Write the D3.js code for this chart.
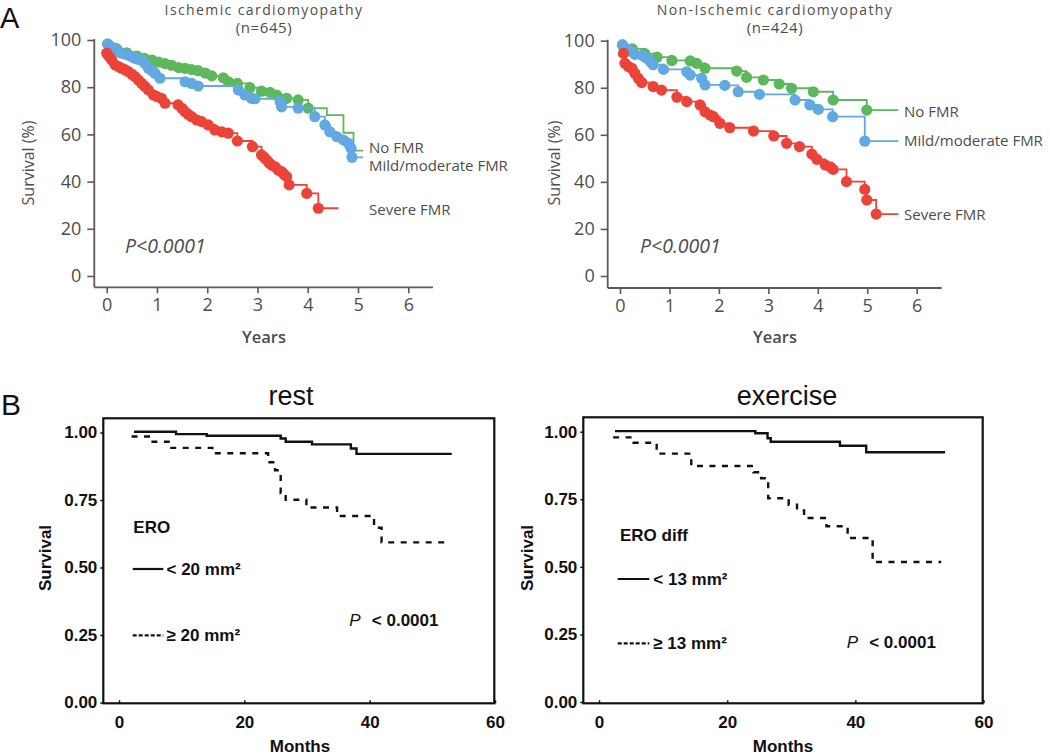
<!DOCTYPE html>
<html><head><meta charset="utf-8">
<script src="https://cdn.jsdelivr.net/npm/d3@7"></script>
<style>body{margin:0;background:#fff}svg{display:block}</style>
</head><body><svg id="c" width="1050" height="755"></svg>
<script>
// ---------- Panel A data ----------
const yearTicks=[0,1,2,3,4,5,6];
const pctTicks=[0,20,40,60,80,100];
const fmrGroups=["No FMR","Mild/moderate FMR","Severe FMR"];

// Ischemic cardiomyopathy (n=645)
const ischNoT=[0.02,0.2,0.4,0.6,0.75,0.9,1.03,1.16,1.29,1.43,1.56,1.69,1.82,1.96,2.09,2.32,2.42,2.6,2.85,3.08,3.25,3.38,3.58,3.81,4.01];
const ischNoS=[98.3,96.2,94.6,93.2,92.2,91.5,90.6,90.0,89.3,88.3,88.0,87.5,87.0,86.0,84.8,84.0,82.3,81.6,79.8,78.3,77.8,76.7,75.3,74.6,71.1];
const ischNoStepT=[4.38,4.71,4.91];
const ischNoStepS=[68.2,60.7,53.1];
const ischNoEnd=5.1;
const ischMildT=[0.02,0.1,0.17,0.24,0.3,0.37,0.43,0.5,0.56,0.63,0.7,0.76,0.83,0.9,0.96,1.06,1.56,1.69,1.82,2.62,2.75,2.88,2.95,3.45,3.48,3.81,4.14,4.34,4.44,4.58,4.71,4.81,4.86,4.88];
const ischMildS=[98.3,97.0,95.8,95.0,94.4,94.0,93.6,92.9,92.2,91.8,91.5,90.0,88.0,87.0,85.9,83.8,82.3,81.6,80.5,78.8,76.7,75.3,75.1,73.9,71.7,71.1,67.5,64.0,61.1,59.0,57.6,56.2,54.1,50.3];
const ischMildEnd=5.1;
const ischSevT=[0,0.05,0.1,0.17,0.24,0.3,0.37,0.43,0.5,0.56,0.63,0.7,0.76,0.83,0.93,1.0,1.09,1.16,1.42,1.5,1.56,1.62,1.69,1.79,1.89,2.02,2.15,2.29,2.42,2.6,2.9,3.08,3.13,3.18,3.23,3.28,3.35,3.41,3.48,3.53,3.58,3.63,3.98,4.21];
const ischSevS=[94.4,93.0,91.5,89.4,88.6,88.0,87.3,86.6,85.5,84.5,83.0,81.6,80.3,78.8,76.7,76.0,75.3,73.2,72.5,71.0,69.6,68.5,67.5,66.1,65.4,64.0,61.9,61.1,60.5,57.2,54.8,51.3,50.3,49.2,48.0,47.0,46.3,44.9,44.2,43.0,42.1,38.6,35.0,28.7];
const ischSevEnd=4.61;

// Non-Ischemic cardiomyopathy (n=424)
const nonNoT=[0.05,0.25,0.5,0.75,1.05,1.42,1.55,1.72,2.36,2.56,2.9,3.22,3.47,3.91,4.31,4.99];
const nonNoS=[98.2,96.5,94.5,93.0,91.6,91.4,90.4,88.3,87.1,84.4,83.3,81.6,79.8,78.3,74.8,70.5];
const nonMildT=[0.05,0.22,0.3,0.45,0.51,0.57,0.62,0.67,0.88,1.35,1.42,1.65,1.72,2.12,2.39,2.82,3.54,3.84,4.01,4.3,4.95];
const nonMildS=[98.2,95.5,94.2,93.8,93.0,92.2,91.0,89.8,87.8,86.8,85.4,84.0,81.2,81.0,78.3,77.2,74.8,72.7,70.8,67.7,57.3];
const nonSevT=[0.07,0.1,0.17,0.24,0.3,0.37,0.44,0.67,0.84,1.15,1.35,1.62,1.72,1.82,1.89,2.02,2.22,2.7,3.11,3.37,3.63,3.88,3.98,4.15,4.25,4.31,4.58,4.95,4.99,5.18];
const nonSevS=[94.6,90.4,89.0,88.3,86.2,84.0,82.2,80.5,79.0,76.0,74.1,72.7,69.8,68.4,67.7,64.9,63.0,61.6,59.5,56.4,55.0,51.8,49.6,47.2,46.4,45.3,40.1,36.8,32.3,26.3];
const nonEnd=5.63;

// ---------- Panel B data ----------
const monthTicks=[0,20,40,60];
const survTicks=[0,0.25,0.5,0.75,1];
const restLowT=[2.4,9.1,14.0,25.8,26.6,30.8,37.0,37.9];
const restLowS=[1.003,0.994,0.988,0.978,0.966,0.956,0.941,0.921];
const restLowEnd=53.1;
const restHighT=[2.0,5.0,7.9,14.9,23.8,24.9,25.8,26.6,29.9,34.8,40.7,41.9];
const restHighS=[0.985,0.966,0.943,0.923,0.89,0.86,0.775,0.751,0.722,0.691,0.647,0.593];
const restHighEnd=52.8;
const exLowT=[2.5,24.4,26.3,26.8,37.6,41.7];
const exLowS=[1.002,0.994,0.976,0.963,0.948,0.924];
const exLowEnd=54.0;
const exHighT=[2.2,5.4,9.0,14.4,24.1,25.3,26.4,29.6,30.9,32.0,35.5,38.8,42.7];
const exHighS=[0.979,0.959,0.919,0.873,0.85,0.828,0.754,0.73,0.709,0.681,0.65,0.607,0.518];
const exHighEnd=53.4;

// ---------- drawing ----------
const svg=d3.select("#c");
const FA="'Open Sans','Noto Sans',sans-serif";
const FB="'Liberation Sans',Arial,sans-serif";
const colors=["#5cb85b","#62a8e3","#ec4339"];
const txtA="#4d4d4d";
const axA="#5a5a5a";

function km(T,S,end){const p=T.map((t,i)=>[t,S[i]]);if(end!=null)p.push([end,S[S.length-1]]);return p;}

function panelA(cfg){
  const x=d3.scaleLinear().domain([0,6]).range(cfg.xr);
  const y=d3.scaleLinear().domain([0,100]).range(cfg.yr);
  const g=svg.append("g");
  const gy=g.append("g").attr("transform",`translate(${cfg.ax},0)`)
    .call(d3.axisLeft(y).tickValues(pctTicks).tickSize(7).tickPadding(6));
  const gx=g.append("g").attr("transform",`translate(0,${cfg.ay})`)
    .call(d3.axisBottom(x).tickValues(yearTicks).tickFormat(d3.format("d")).tickSize(6).tickPadding(5));
  [gy,gx].forEach(a=>{a.select(".domain").remove();
    a.selectAll("line").attr("stroke",axA).attr("stroke-width",1.6);
    a.selectAll("text").attr("font-family",FA).attr("font-size",18).attr("fill",txtA);});
  g.append("line").attr("x1",cfg.ax).attr("x2",cfg.ax).attr("y1",y(100)-1).attr("y2",cfg.ay)
    .attr("stroke",axA).attr("stroke-width",1.8);
  g.append("line").attr("x1",cfg.ax).attr("x2",cfg.xEnd).attr("y1",cfg.ay).attr("y2",cfg.ay)
    .attr("stroke",axA).attr("stroke-width",1.8);
  g.append("text").attr("x",cfg.tc).attr("y",15).attr("text-anchor","middle")
    .attr("font-family",FA).attr("font-size",14).attr("letter-spacing",1.4).attr("fill",txtA).text(cfg.title);
  g.append("text").attr("x",cfg.tc).attr("y",33).attr("text-anchor","middle")
    .attr("font-family",FA).attr("font-size",15).attr("letter-spacing",0.6).attr("fill",txtA).text(cfg.n);
  g.append("text").attr("x",cfg.tc).attr("y",343).attr("text-anchor","middle")
    .attr("font-family",FA).attr("font-size",16.5).attr("font-weight",600).attr("fill",txtA).text("Years");
  g.append("text").attr("transform",`translate(${cfg.ylx},163) rotate(-90)`).attr("text-anchor","middle")
    .attr("dy","0.35em").attr("font-family",FA).attr("font-size",16).attr("font-weight",500).attr("fill",txtA).text("Survival (%)");
  g.append("text").attr("x",cfg.px).attr("y",253).attr("font-family",FA).attr("font-style","italic")
    .attr("font-size",19.5).attr("fill",txtA).text("P<0.0001");
  const line=d3.line().x(d=>x(d[0])).y(d=>y(d[1])).curve(d3.curveStepAfter);
  cfg.series.forEach((s,i)=>{
    const pts=km(s.T.concat(s.stepT||[]),s.S.concat(s.stepS||[]),s.end);
    g.append("path").attr("d",line(pts)).attr("fill","none").attr("stroke",colors[i]).attr("stroke-width",1.8);
    g.selectAll(null).data(s.T.map((t,j)=>[t,s.S[j]])).join("circle")
      .attr("cx",d=>x(d[0])).attr("cy",d=>y(d[1])).attr("r",5.6).attr("fill",colors[i]);
  });
  cfg.labels.forEach((l,i)=>{
    g.append("text").attr("x",cfg.lx).attr("y",l).attr("dy","0.35em").attr("font-family",FA)
      .attr("font-size",15).attr("fill",txtA).text(fmrGroups[i]);
  });
}

panelA({xr:[106.7,408.3],yr:[276,40],ax:94.3,ay:287.3,xEnd:433,tc:264,ylx:28,px:125,lx:369,
  title:"Ischemic cardiomyopathy",n:"(n=645)",labels:[148,166,210],
  series:[{T:ischNoT,S:ischNoS,stepT:ischNoStepT,stepS:ischNoStepS,end:ischNoEnd},
          {T:ischMildT,S:ischMildS,end:ischMildEnd},
          {T:ischSevT,S:ischSevS,end:ischSevEnd}]});
panelA({xr:[620,916.7],yr:[276,40.7],ax:607.7,ay:288,xEnd:941.7,tc:775,ylx:554,px:640,lx:904,
  title:"Non-Ischemic cardiomyopathy",n:"(n=424)",labels:[112,141,215],
  series:[{T:nonNoT,S:nonNoS,end:nonEnd},{T:nonMildT,S:nonMildS,end:nonEnd},{T:nonSevT,S:nonSevS,end:nonEnd}]});

svg.append("text").attr("x",0).attr("y",28).attr("font-family",FB).attr("font-size",29).attr("fill","#111").text("A");
svg.append("text").attr("x",1).attr("y",415).attr("font-family",FB).attr("font-size",30).attr("fill","#111").text("B");

function panelB(cfg){
  const x=d3.scaleLinear().domain([0,60]).range(cfg.xr);
  const y=d3.scaleLinear().domain([0,1]).range(cfg.yr);
  const g=svg.append("g");
  const [bl,bt,br,bb]=cfg.box;
  g.append("rect").attr("x",bl).attr("y",bt).attr("width",br-bl).attr("height",bb-bt)
    .attr("fill","none").attr("stroke","#111").attr("stroke-width",2.2);
  const gy=g.append("g").attr("transform",`translate(${bl},0)`)
    .call(d3.axisLeft(y).tickValues(survTicks).tickFormat(d3.format(".2f")).tickSize(3).tickPadding(3));
  const gx=g.append("g").attr("transform",`translate(0,${bb})`)
    .call(d3.axisBottom(x).tickValues(monthTicks).tickSize(-3).tickPadding(13));
  [gy,gx].forEach(a=>{a.select(".domain").remove();
    a.selectAll("line").attr("stroke","#111").attr("stroke-width",1.5);
    a.selectAll("text").attr("font-family",FB).attr("font-weight","bold").attr("font-size",17).attr("fill","#111");});
  g.append("text").attr("x",cfg.tc).attr("y",405).attr("text-anchor","middle").attr("font-family",FB)
    .attr("font-size",27).attr("fill","#111").text(cfg.title);
  g.append("text").attr("x",cfg.mc).attr("y",752).attr("text-anchor","middle").attr("font-family",FB)
    .attr("font-size",17).attr("font-weight","bold").attr("fill","#111").text("Months");
  g.append("text").attr("transform",`translate(${cfg.ylx},558) rotate(-90)`).attr("text-anchor","middle")
    .attr("dy","0.35em").attr("font-family",FB).attr("font-size",17).attr("font-weight","bold").attr("fill","#111").text("Survival");
  const line=d3.line().x(d=>x(d[0])).y(d=>y(d[1])).curve(d3.curveStepAfter);
  g.append("path").attr("d",line(km(cfg.low.T,cfg.low.S,cfg.low.end))).attr("fill","none")
    .attr("stroke","#111").attr("stroke-width",2.4);
  g.append("path").attr("d",line(km(cfg.high.T,cfg.high.S,cfg.high.end))).attr("fill","none")
    .attr("stroke","#111").attr("stroke-width",2.4).attr("stroke-dasharray","6,6.5");
  const L=cfg.leg;
  const tx=(xx,yy,s,o)=>{const t=g.append("text").attr("x",xx).attr("y",yy).attr("font-family",FB)
     .attr("font-size",17).attr("fill","#111");if(!o||!o.reg)t.attr("font-weight","bold");if(o&&o.it)t.attr("font-style","italic");t.text(s);return t;};
  tx(L.x,L.hy,L.head);
  g.append("line").attr("x1",L.lx1).attr("x2",L.lx2).attr("y1",L.y1).attr("y2",L.y1).attr("stroke","#111").attr("stroke-width",2.2);
  tx(L.tx,L.y1+6,L.t1);
  g.append("line").attr("x1",L.lx1).attr("x2",L.lx2).attr("y1",L.y2).attr("y2",L.y2).attr("stroke","#111").attr("stroke-width",2.2).attr("stroke-dasharray","4,2");
  tx(L.tx,L.y2+6,L.t2);
  tx(L.px,L.py,"P",{reg:1,it:1});
  tx(L.px+22.5,L.py,"< 0.0001");
}

panelB({xr:[119,495],yr:[702.5,432.5],box:[103.3,418.3,494.3,703.3],tc:291,mc:300,ylx:45,title:"rest",
  low:{T:restLowT,S:restLowS,end:restLowEnd},high:{T:restHighT,S:restHighS,end:restHighEnd},
  leg:{x:133.3,hy:533,head:"ERO",lx1:132.7,lx2:163.3,tx:166.5,y1:569,y2:635.3,t1:"< 20 mm²",t2:"≥ 20 mm²",px:349.3,py:626}});
panelB({xr:[599,983.5],yr:[702,431.7],box:[583.3,417.3,982.7,703.3],tc:787,mc:783,ylx:527,title:"exercise",
  low:{T:exLowT,S:exLowS,end:exLowEnd},high:{T:exHighT,S:exHighS,end:exHighEnd},
  leg:{x:620,hy:541,head:"ERO diff",lx1:617.7,lx2:649.3,tx:653.3,y1:579,y2:643.3,t1:"< 13 mm²",t2:"≥ 13 mm²",px:846.7,py:648}});
</script></body></html>
